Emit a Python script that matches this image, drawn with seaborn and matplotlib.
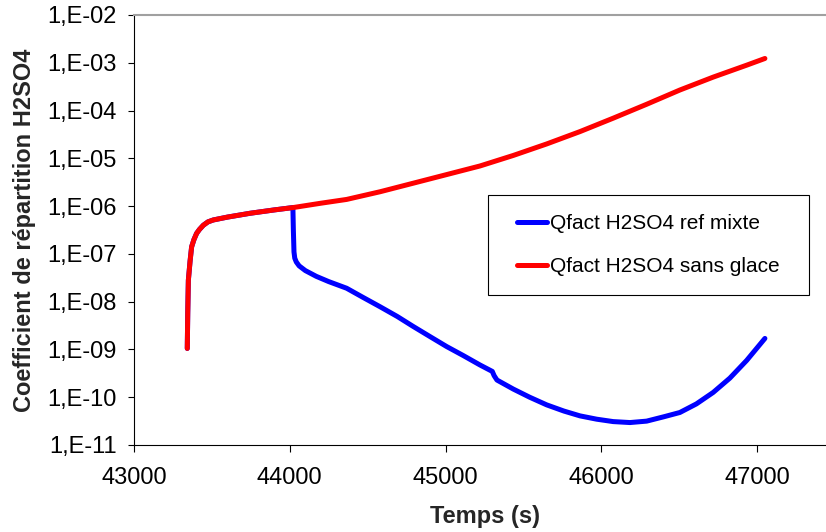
import numpy as np
import pandas as pd
import matplotlib
matplotlib.use("Agg")
import matplotlib.pyplot as plt
from matplotlib.patches import Rectangle
from matplotlib.ticker import FixedLocator, FuncFormatter, NullLocator
import seaborn as sns

# ---- data ----
red_label = "Qfact H2SO4 sans glace"
red_time = [43342, 43345, 43349, 43360, 43370, 43385, 43402, 43420, 43445, 43475,
            43509, 43600, 43745, 43900, 44022, 44200, 44365, 44580, 44793, 45007,
            45221, 45435, 45649, 45863, 46076, 46290, 46504, 46718, 46933, 47050]
red_value = [1.05e-9, 5.75e-9, 2.82e-8, 7.08e-8, 1.41e-7, 2.00e-7, 2.69e-7, 3.24e-7, 3.98e-7, 4.68e-7,
             5.13e-7, 5.89e-7, 7.08e-7, 8.32e-7, 9.33e-7, 1.15e-6, 1.38e-6, 2.00e-6, 3.02e-6, 4.57e-6,
             6.92e-6, 1.15e-5, 2.00e-5, 3.63e-5, 6.92e-5, 1.35e-4, 2.69e-4, 5.01e-4, 8.91e-4, 1.23e-3]

blue_label = "Qfact H2SO4 ref mixte"
blue_time = [43342, 43345, 43349, 43360, 43370, 43385, 43402, 43420, 43445, 43475,
             43509, 43600, 43745, 43900, 44020, 44023, 44027, 44032, 44042, 44060,
             44100, 44170, 44250, 44365, 44470, 44579, 44690, 44793, 44900, 45007,
             45115, 45221, 45300, 45312, 45330, 45435, 45540, 45649, 45760, 45863,
             45970, 46076, 46184, 46291, 46400, 46504, 46610, 46718, 46825, 46933, 47050]
blue_value = [1.05e-9, 5.75e-9, 2.82e-8, 7.08e-8, 1.41e-7, 2.00e-7, 2.69e-7, 3.24e-7, 3.98e-7, 4.68e-7,
              5.13e-7, 5.89e-7, 7.08e-7, 8.32e-7, 9.33e-7, 3.16e-7, 1.10e-7, 8.13e-8, 6.76e-8, 5.62e-8,
              4.47e-8, 3.39e-8, 2.63e-8, 1.91e-8, 1.23e-8, 7.85e-9, 4.90e-9, 3.02e-9, 1.86e-9, 1.15e-9,
              7.41e-10, 4.73e-10, 3.47e-10, 2.82e-10, 2.29e-10, 1.48e-10, 1.00e-10, 6.92e-11, 5.13e-11, 4.07e-11,
              3.47e-11, 3.09e-11, 2.95e-11, 3.16e-11, 3.89e-11, 4.79e-11, 7.24e-11, 1.26e-10, 2.51e-10, 5.89e-10, 1.70e-9]

y_ticks = [1e-11, 1e-10, 1e-9, 1e-8, 1e-7, 1e-6, 1e-5, 1e-4, 1e-3, 1e-2]
x_ticks = [43000, 44000, 45000, 46000, 47000]
x_label = "Temps (s)"
y_label = "Coefficient de répartition H2SO4"

# ---- style ----
sns.set_style("ticks")
plt.rcParams["font.family"] = ["Liberation Sans", "DejaVu Sans"]

W, H = 826, 532
fig = plt.figure(figsize=(W / 100, H / 100), dpi=100)
ax = fig.add_axes([134 / W, (H - 445) / H, (835 - 134) / W, 430 / H])

blue_df = pd.DataFrame({"t": blue_time, "v": blue_value})
red_df = pd.DataFrame({"t": red_time, "v": red_value})
sns.lineplot(data=blue_df, x="t", y="v", ax=ax, color="#0000FF", lw=3.6,
             label=blue_label, estimator=None, sort=False, solid_capstyle="round")
sns.lineplot(data=red_df, x="t", y="v", ax=ax, color="#FF0000", lw=3.6,
             label=red_label, estimator=None, sort=False, solid_capstyle="round")

ax.set_yscale("log")
ax.set_ylim(1e-11, 1e-2)
ax.set_xlim(43000, 47500)
ax.yaxis.set_major_locator(FixedLocator(y_ticks))
ax.yaxis.set_minor_locator(NullLocator())
ax.yaxis.set_major_formatter(FuncFormatter(lambda v, p: "1,E-%02d" % int(round(-np.log10(v)))))
ax.xaxis.set_major_locator(FixedLocator(x_ticks))
ax.xaxis.set_major_formatter(FuncFormatter(lambda v, p: "%d" % v))

ax.tick_params(axis="y", direction="out", length=4.3, width=0.8, pad=8,
               labelsize=17, colors="black")
ax.tick_params(axis="x", direction="out", length=5.0, width=0.8, pad=11,
               labelsize=17, colors="black")

for s in ["left", "bottom"]:
    ax.spines[s].set_color("black")
    ax.spines[s].set_linewidth(0.8)
ax.spines["top"].set_color("#a0a0a0")
ax.spines["top"].set_linewidth(1.5)
ax.spines["right"].set_visible(False)

ax.set_xlabel(x_label, fontsize=17, fontweight="bold")
ax.xaxis.set_label_coords(0.5, -0.14)
ax.set_ylabel(y_label, fontsize=17, fontweight="bold", va="center")
ax.yaxis.set_label_coords(-0.156, 0.5)

leg = ax.legend(loc="center left", bbox_to_anchor=(517 / W, (H - 245) / H),
                bbox_transform=fig.transFigure, frameon=False, fontsize=15,
                handlelength=1.44, handletextpad=0.12, labelspacing=1.16,
                borderpad=0, borderaxespad=0)
for line in leg.get_lines():
    line.set_linewidth(3.6)
for t in leg.get_texts():
    t.set_color("black")

fig.patches.append(Rectangle((488 / W, (H - 295) / H), (809 - 488) / W, 100 / H,
                             transform=fig.transFigure, fill=False,
                             edgecolor="black", linewidth=0.8))

fig.savefig("out.png", dpi=100)
